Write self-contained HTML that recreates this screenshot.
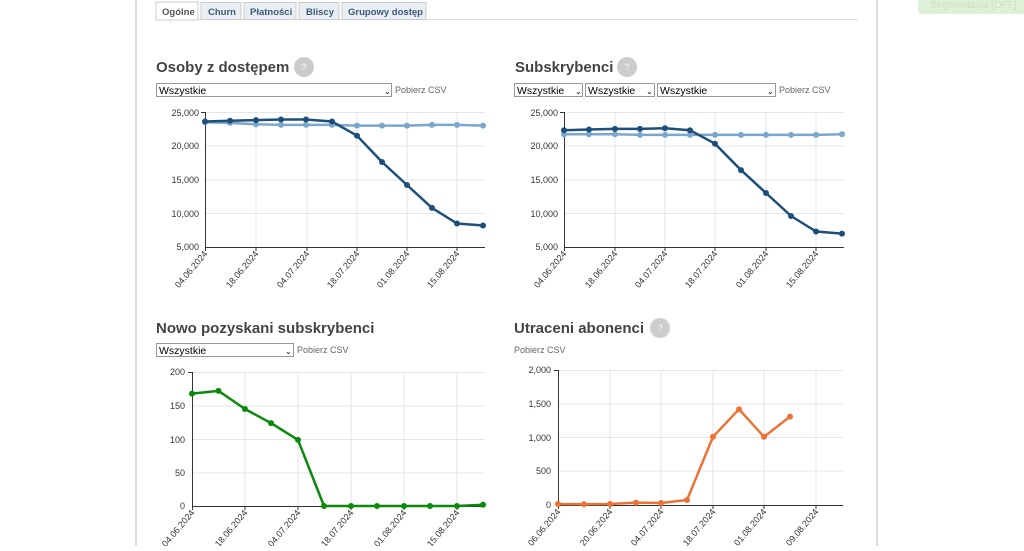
<!DOCTYPE html>
<html><head><meta charset="utf-8"><style>
body{margin:0;width:1024px;height:546px;overflow:hidden;background:#fff;font-family:"Liberation Sans",sans-serif;}
</style></head><body>
<svg width="1024" height="546" xmlns="http://www.w3.org/2000/svg" font-family="Liberation Sans, sans-serif">
<rect x="135" y="0" width="2" height="546" fill="#ddd"/>
<rect x="876" y="0" width="2" height="546" fill="#ddd"/>
<rect x="918" y="-6" width="110" height="20" rx="4" fill="#dff0d8"/>
<text x="930" y="8" font-size="10" fill="#c8e2c0">Segmentacja [OFF]</text>
<line x1="156" y1="19.5" x2="858" y2="19.5" stroke="#ddd"/>
<g font-size="9.5" font-weight="bold" fill="#3a5a7a">
<rect x="156" y="2" width="42" height="18" fill="#fff" stroke="#ccc"/>
<text x="162" y="15" fill="#555">Ogólne</text>
<rect x="201" y="2.5" width="40" height="17" fill="#e9eef2" stroke="#ccc"/>
<text x="208" y="15">Churn</text>
<rect x="244" y="2.5" width="52" height="17" fill="#e9eef2" stroke="#ccc"/>
<text x="250" y="15">Płatności</text>
<rect x="299" y="2.5" width="40" height="17" fill="#e9eef2" stroke="#ccc"/>
<text x="306" y="15">Bliscy</text>
<rect x="342" y="2.5" width="84" height="17" fill="#e9eef2" stroke="#ccc"/>
<text x="348" y="15">Grupowy dostęp</text>
</g>
<g font-size="15" font-weight="bold" fill="#444">
<text x="156" y="72">Osoby z dostępem</text>
<text x="515" y="72">Subskrybenci</text>
<text x="156" y="333">Nowo pozyskani subskrybenci</text>
<text x="514" y="333">Utraceni abonenci</text>
</g>
<g fill="#ccc"><circle cx="304" cy="67" r="10"/><circle cx="627" cy="67" r="10"/><circle cx="660" cy="328" r="10"/></g>
<g fill="#fff" font-size="9" text-anchor="middle"><text x="304" y="70">?</text><text x="627" y="70">?</text><text x="660" y="331">?</text></g>
<g font-size="10.5" fill="#000">
<rect x="156.5" y="83.5" width="235" height="13" fill="#fff" stroke="#999"/><text x="159" y="94">Wszystkie</text><text x="384" y="94" font-size="8">⌄</text>
<rect x="514.5" y="83.5" width="68" height="13" fill="#fff" stroke="#999"/><text x="517" y="94">Wszystkie</text><text x="575" y="94" font-size="8">⌄</text>
<rect x="585.5" y="83.5" width="69" height="13" fill="#fff" stroke="#999"/><text x="588" y="94">Wszystkie</text><text x="646" y="94" font-size="8">⌄</text>
<rect x="657.5" y="83.5" width="118" height="13" fill="#fff" stroke="#999"/><text x="660" y="94">Wszystkie</text><text x="767" y="94" font-size="8">⌄</text>
<rect x="156.5" y="343.5" width="137" height="13" fill="#fff" stroke="#999"/><text x="159" y="354">Wszystkie</text><text x="285" y="354" font-size="8">⌄</text>
</g>
<g font-size="9" fill="#666">
<text x="395" y="93">Pobierz CSV</text><text x="779" y="93">Pobierz CSV</text>
<text x="297" y="353">Pobierz CSV</text><text x="514" y="353">Pobierz CSV</text>
</g>
<g stroke="#e6e6e6">
<line x1="205" y1="112.5" x2="485" y2="112.5"/><line x1="205" y1="146" x2="485" y2="146"/><line x1="205" y1="180" x2="485" y2="180"/><line x1="205" y1="213.5" x2="485" y2="213.5"/>
<line x1="256" y1="112" x2="256" y2="247"/><line x1="307" y1="112" x2="307" y2="247"/><line x1="357" y1="112" x2="357" y2="247"/><line x1="407" y1="112" x2="407" y2="247"/><line x1="457" y1="112" x2="457" y2="247"/>
<line x1="564" y1="112.5" x2="844" y2="112.5"/><line x1="564" y1="146" x2="844" y2="146"/><line x1="564" y1="180" x2="844" y2="180"/><line x1="564" y1="213.5" x2="844" y2="213.5"/>
<line x1="615" y1="112" x2="615" y2="247"/><line x1="665" y1="112" x2="665" y2="247"/><line x1="715" y1="112" x2="715" y2="247"/><line x1="766" y1="112" x2="766" y2="247"/><line x1="816" y1="112" x2="816" y2="247"/>
<line x1="192" y1="372.5" x2="485" y2="372.5"/><line x1="192" y1="406" x2="485" y2="406"/><line x1="192" y1="439.5" x2="485" y2="439.5"/><line x1="192" y1="473" x2="485" y2="473"/>
<line x1="245" y1="372" x2="245" y2="506"/><line x1="298" y1="372" x2="298" y2="506"/><line x1="351" y1="372" x2="351" y2="506"/><line x1="404" y1="372" x2="404" y2="506"/><line x1="457" y1="372" x2="457" y2="506"/>
<line x1="558" y1="370.5" x2="843" y2="370.5"/><line x1="558" y1="404" x2="843" y2="404"/><line x1="558" y1="437.5" x2="843" y2="437.5"/><line x1="558" y1="471" x2="843" y2="471"/>
<line x1="610" y1="370" x2="610" y2="505"/><line x1="661" y1="370" x2="661" y2="505"/><line x1="713" y1="370" x2="713" y2="505"/><line x1="764" y1="370" x2="764" y2="505"/><line x1="816" y1="370" x2="816" y2="505"/>
</g>
<g stroke="#333" fill="none">
<path d="M201 112.5H205.5V247.5H485"/><path d="M560 112.5H564.5V247.5H844"/>
<path d="M188 372.5H192.5V506.5H485"/><path d="M554 370.5H558.5V505.5H843"/>
<path d="M256 247v4M307 247v4M357 247v4M407 247v4M457 247v4M205.5 247v4"/>
<path d="M564.5 247v4M615 247v4M665 247v4M715 247v4M766 247v4M816 247v4"/>
<path d="M192.5 506v4M245 506v4M298 506v4M351 506v4M404 506v4M457 506v4"/>
<path d="M558.5 505v4M610 505v4M661 505v4M713 505v4M764 505v4M816 505v4"/>
</g>
<g font-size="9" fill="#333" text-anchor="end">
<text x="199" y="116">25,000</text><text x="199" y="149">20,000</text><text x="199" y="183">15,000</text><text x="199" y="217">10,000</text><text x="199" y="250">5,000</text>
<text x="558" y="116">25,000</text><text x="558" y="149">20,000</text><text x="558" y="183">15,000</text><text x="558" y="217">10,000</text><text x="558" y="250">5,000</text>
<text x="185" y="375">200</text><text x="185" y="409">150</text><text x="185" y="443">100</text><text x="185" y="476">50</text><text x="185" y="509">0</text>
<text x="551" y="373">2,000</text><text x="551" y="407">1,500</text><text x="551" y="441">1,000</text><text x="551" y="474">500</text><text x="551" y="508">0</text>
</g>
<g font-size="9" fill="#333" text-anchor="end">
<text transform="translate(208,254) rotate(-50)">04.06.2024</text><text transform="translate(259,254) rotate(-50)">18.06.2024</text><text transform="translate(310,254) rotate(-50)">04.07.2024</text><text transform="translate(360,254) rotate(-50)">18.07.2024</text><text transform="translate(410,254) rotate(-50)">01.08.2024</text><text transform="translate(460,254) rotate(-50)">15.08.2024</text>
<text transform="translate(567,254) rotate(-50)">04.06.2024</text><text transform="translate(618,254) rotate(-50)">18.06.2024</text><text transform="translate(668,254) rotate(-50)">04.07.2024</text><text transform="translate(718,254) rotate(-50)">18.07.2024</text><text transform="translate(769,254) rotate(-50)">01.08.2024</text><text transform="translate(819,254) rotate(-50)">15.08.2024</text>
<text transform="translate(195,513) rotate(-50)">04.06.2024</text><text transform="translate(248,513) rotate(-50)">18.06.2024</text><text transform="translate(301,513) rotate(-50)">04.07.2024</text><text transform="translate(354,513) rotate(-50)">18.07.2024</text><text transform="translate(407,513) rotate(-50)">01.08.2024</text><text transform="translate(460,513) rotate(-50)">15.08.2024</text>
<text transform="translate(561,512) rotate(-50)">06.06.2024</text><text transform="translate(613,512) rotate(-50)">20.06.2024</text><text transform="translate(664,512) rotate(-50)">04.07.2024</text><text transform="translate(716,512) rotate(-50)">18.07.2024</text><text transform="translate(767,512) rotate(-50)">01.08.2024</text><text transform="translate(819,512) rotate(-50)">09.08.2024</text>
</g>
<g stroke-width="2.5" fill="none" stroke-linejoin="round">
<polyline stroke="#7ba7cc" points="205,122.2 230,122.9 256,124.3 281,124.9 306,124.9 332,124.9 357,125.6 382,125.6 407,125.6 432,124.9 457,124.9 483,125.6"/>
<polyline stroke="#1c4f7c" points="205,121.5 230,120.8 256,120.1 281,119.5 306,119.5 332,121.5 357,135.7 382,162 407,185 432,207.9 457,223.5 483,225.5"/>
<polyline stroke="#7ba7cc" points="564,134.3 589,134.3 615,134.3 640,134.9 665,134.9 690,134.9 715,134.9 741,134.9 766,134.9 791,134.9 816,134.9 842,134.3"/>
<polyline stroke="#1c4f7c" points="564,130.2 589,129.5 615,128.9 640,128.9 665,128.2 690,130.2 715,143.7 741,170.1 766,193 791,216 816,231.5 842,233.6"/>
<polyline stroke="#0a8a0a" points="192,393.6 218.5,390.9 245,409 271,423.1 298,439.9 324,506 351,506 377,506 404,506 430,506 457,506 483,504.7"/>
<polyline stroke="#ee7136" points="558,504 584,504.3 610,504 636,502.6 661,503 687,500 713,436.8 739,409.2 764,436.8 790,416.6"/>
</g>
<g fill="#7ba7cc"><circle cx="205" cy="122.2" r="3"/><circle cx="230" cy="122.9" r="3"/><circle cx="256" cy="124.3" r="3"/><circle cx="281" cy="124.9" r="3"/><circle cx="306" cy="124.9" r="3"/><circle cx="332" cy="124.9" r="3"/><circle cx="357" cy="125.6" r="3"/><circle cx="382" cy="125.6" r="3"/><circle cx="407" cy="125.6" r="3"/><circle cx="432" cy="124.9" r="3"/><circle cx="457" cy="124.9" r="3"/><circle cx="483" cy="125.6" r="3"/>
<circle cx="564" cy="134.3" r="3"/><circle cx="589" cy="134.3" r="3"/><circle cx="615" cy="134.3" r="3"/><circle cx="640" cy="134.9" r="3"/><circle cx="665" cy="134.9" r="3"/><circle cx="690" cy="134.9" r="3"/><circle cx="715" cy="134.9" r="3"/><circle cx="741" cy="134.9" r="3"/><circle cx="766" cy="134.9" r="3"/><circle cx="791" cy="134.9" r="3"/><circle cx="816" cy="134.9" r="3"/><circle cx="842" cy="134.3" r="3"/></g>
<g fill="#1c4f7c"><circle cx="205" cy="121.5" r="3"/><circle cx="230" cy="120.8" r="3"/><circle cx="256" cy="120.1" r="3"/><circle cx="281" cy="119.5" r="3"/><circle cx="306" cy="119.5" r="3"/><circle cx="332" cy="121.5" r="3"/><circle cx="357" cy="135.7" r="3"/><circle cx="382" cy="162" r="3"/><circle cx="407" cy="185" r="3"/><circle cx="432" cy="207.9" r="3"/><circle cx="457" cy="223.5" r="3"/><circle cx="483" cy="225.5" r="3"/>
<circle cx="564" cy="130.2" r="3"/><circle cx="589" cy="129.5" r="3"/><circle cx="615" cy="128.9" r="3"/><circle cx="640" cy="128.9" r="3"/><circle cx="665" cy="128.2" r="3"/><circle cx="690" cy="130.2" r="3"/><circle cx="715" cy="143.7" r="3"/><circle cx="741" cy="170.1" r="3"/><circle cx="766" cy="193" r="3"/><circle cx="791" cy="216" r="3"/><circle cx="816" cy="231.5" r="3"/><circle cx="842" cy="233.6" r="3"/></g>
<g fill="#0a8a0a"><circle cx="192" cy="393.6" r="3"/><circle cx="218.5" cy="390.9" r="3"/><circle cx="245" cy="409" r="3"/><circle cx="271" cy="423.1" r="3"/><circle cx="298" cy="439.9" r="3"/><circle cx="324" cy="506" r="3"/><circle cx="351" cy="506" r="3"/><circle cx="377" cy="506" r="3"/><circle cx="404" cy="506" r="3"/><circle cx="430" cy="506" r="3"/><circle cx="457" cy="506" r="3"/><circle cx="483" cy="504.7" r="3"/></g>
<g fill="#ee7136"><circle cx="558" cy="504" r="3"/><circle cx="584" cy="504.3" r="3"/><circle cx="610" cy="504" r="3"/><circle cx="636" cy="502.6" r="3"/><circle cx="661" cy="503" r="3"/><circle cx="687" cy="500" r="3"/><circle cx="713" cy="436.8" r="3"/><circle cx="739" cy="409.2" r="3"/><circle cx="764" cy="436.8" r="3"/><circle cx="790" cy="416.6" r="3"/></g>
</svg>
</body></html>
